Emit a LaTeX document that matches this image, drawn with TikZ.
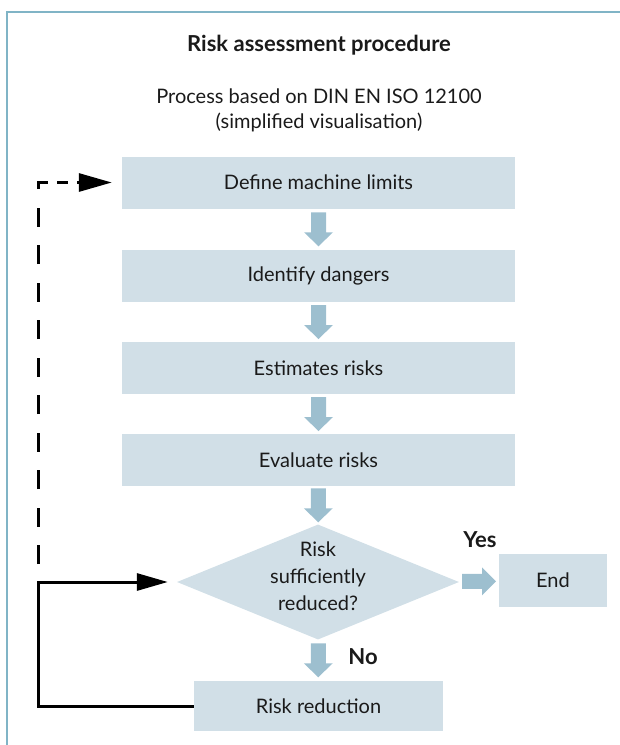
\documentclass[tikz,border=0pt]{standalone}
\usepackage{fontspec}
\setmainfont{Lato}
\usetikzlibrary{arrows.meta,shapes.geometric,calc}
\definecolor{boxc}{HTML}{D1DFE7}
\definecolor{arrc}{HTML}{9DBFCF}
\definecolor{framec}{HTML}{80B4C6}
\definecolor{txtc}{HTML}{1A1A1A}
\tikzset{
  downarr/.pic={\fill[arrc] (-7.5,-17) -- (7.5,-17) -- (7.5,3) -- (14.5,3) -- (0,17) -- (-14.5,3) -- (-7.5,3) -- cycle;},
  rightarr/.pic={\fill[arrc] (-17,-7.5) -- (3,-7.5) -- (3,-14) -- (17,0) -- (3,14) -- (3,7.5) -- (-17,7.5) -- cycle;}
}
\begin{document}
\begin{tikzpicture}[x=1pt,y=-1pt,
  every node/.style={font=\fontsize{20}{27}\selectfont, text=txtc},
  stepbox/.style={fill=boxc, inner sep=0pt, minimum height=52pt, minimum width=393pt},
  lbl/.style={font=\fontsize{22}{27}\selectfont\bfseries},
  loopline/.style={line width=3pt, -{Triangle[length=31pt,width=17pt]}, shorten >=9pt},
  dashv/.style={line width=3pt, dash pattern=on 19pt off 18.5pt},
  dashh/.style={line width=3pt, line cap=rect, dash pattern=on 8.5pt off 11.5pt, -{Triangle[length=33pt,width=18pt]}, shorten >=10pt}
]
\useasboundingbox (0,0) rectangle (620,745);
\draw[framec, line width=2pt] (7,746) -- (7,12) -- (621,12);

\node[font=\fontsize{22}{27}\selectfont\bfseries] (title) at (319,45) {Risk assessment procedure};
\node[align=center, font=\fontsize{20}{25}\selectfont] (sub) at (319,110) {Process based on DIN EN ISO 12100\\(simplified visualisation)};

\node[stepbox] (def) at (318.5,182.5) {Define machine limits};
\node[stepbox] (idf) at (318.5,276) {Identify dangers};
\node[stepbox] (est) at (318.5,368) {Estimates risks};
\node[stepbox] (eva) at (318.5,460) {Evaluate risks};
\node[diamond, fill=boxc, inner sep=0pt, minimum width=282pt, minimum height=115pt] (dec) at (318,582) {};
\node[align=center] (dectxt) at (318,576) {Risk\\sufficiently\\reduced?};
\node[stepbox, minimum width=108pt, minimum height=53pt] (end) at (553,580.5) {End};
\node[stepbox, minimum width=249pt, minimum height=50pt] (rr) at (318.5,706) {Risk reduction};

\pic at ($(def.south)!0.5!(idf.north)$) {downarr};
\pic at ($(idf.south)!0.5!(est.north)$) {downarr};
\pic at ($(est.south)!0.5!(eva.north)$) {downarr};
\pic at ($(eva.south)!0.5!(dec.north)$) {downarr};
\pic at ($(dec.south)!0.5!(rr.north)$) {downarr};
\pic at ($(dec.east)!0.5!(end.west)$) {rightarr};

\node[lbl] (yes) at (480,540) {Yes};
\node[lbl] (no) at (363,657) {No};

\draw[loopline] (rr.west) -- (38,706) |- (dec.west);
\coordinate (dstart) at (38,564);
\coordinate (dcorner) at (38,182.5);
\draw[dashv] (dstart) -- (dcorner);
\draw[dashh] (dcorner) -- (def.west);
\end{tikzpicture}
\end{document}
